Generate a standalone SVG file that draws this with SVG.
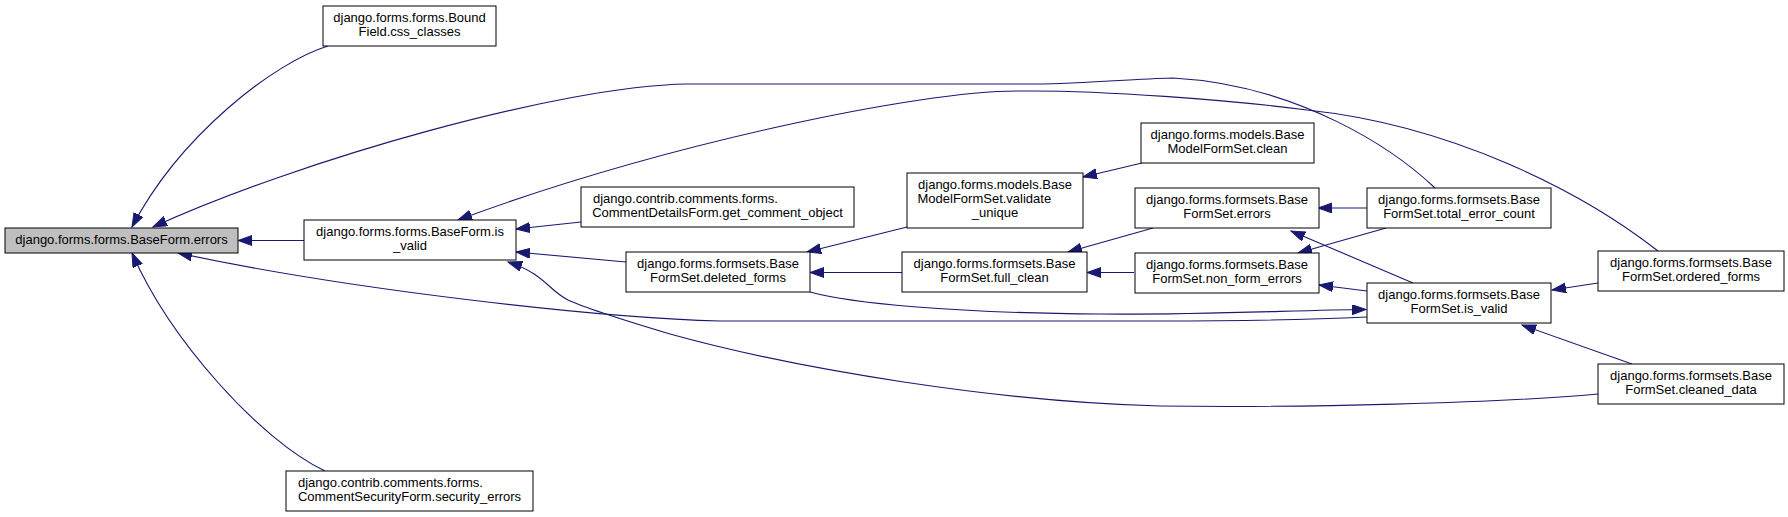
<svg xmlns="http://www.w3.org/2000/svg" width="1788" height="517" viewBox="0 0 1788 517">
<style>
  .box { fill: #ffffff; stroke: #000000; stroke-width: 1; }
  .cur { fill: #bfbfbf; stroke: #000000; stroke-width: 1; }
  text { font-family: "Liberation Sans", Arial, sans-serif; font-size: 13px; fill: #000000; }
  .m { text-anchor: middle; }
  .s { text-anchor: start; }
  .edge { fill: none; stroke: #191970; stroke-width: 1.1; marker-end: url(#arr); }
</style>
<defs>
  <marker id="arr" markerUnits="userSpaceOnUse" markerWidth="16" markerHeight="12" refX="14" refY="5" orient="auto">
    <path d="M0,0 L14,5 L0,10 z" fill="#191970" stroke="#191970" stroke-width="1"/>
  </marker>
</defs>
<rect width="1788" height="517" fill="#ffffff"/>

<g id="connectors">
  <path class="edge" d="M328,46 C275,62 180,135 132,227"/>
  <path class="edge" d="M1435,188 C1395,150 1300,85 1173,78 C1150,78 1080,84 1037,84 L687,84 C560,86 300,160 153,227"/>
  <path class="edge" d="M304,240.5 L238,240.5"/>
  <path class="edge" d="M1658,251 C1580,190 1450,125 1307,110 C1230,100 1100,90 1020,91 C920,90 660,145 458,220"/>
  <path class="edge" d="M581,222 L516,229"/>
  <path class="edge" d="M626,262 L516,252"/>
  <path class="edge" d="M907,227 L807,252"/>
  <path class="edge" d="M902,272.5 L810,272.5"/>
  <path class="edge" d="M1142,163 L1083,177"/>
  <path class="edge" d="M1153,228 L1068,252"/>
  <path class="edge" d="M1134,272.5 L1087,272.5"/>
  <path class="edge" d="M1367,208 L1318,208"/>
  <path class="edge" d="M1386,228 L1298,253"/>
  <path class="edge" d="M1413,283 L1291,231"/>
  <path class="edge" d="M1367,291 L1319,285"/>
  <path class="edge" d="M1598,283 L1552,290"/>
  <path class="edge" d="M1632,364 L1522,325"/>
  <path class="edge" d="M810,292 C850,303 950,313 1100,314 C1200,315 1300,310 1366,309.5"/>
  <path class="edge" d="M1367,317 C1300,320 1250,321 1160,321 L720,321 C600,318 350,290 178,253"/>
  <path class="edge" d="M1598,394 C1500,403 1300,408 1160,406 C1000,402 800,370 670,334 C610,316 585,308 568,300 C548,290 545,274 508,262"/>
  <path class="edge" d="M325,471 C260,440 170,340 132,253"/>
</g>

<g id="node-errors">
  <rect class="cur" x="5" y="228" width="233" height="25"/>
  <text class="m" x="121.5" y="243.5">django.forms.forms.BaseForm.errors</text>
</g>
<g id="node-css_classes">
  <rect class="box" x="323" y="6" width="173" height="40"/>
  <text class="m" x="409.5" y="22">django.forms.forms.Bound</text>
  <text class="m" x="409.5" y="36">Field.css_classes</text>
</g>
<g id="node-baseform-is_valid">
  <rect class="box" x="304" y="220" width="212" height="40"/>
  <text class="m" x="410" y="236">django.forms.forms.BaseForm.is</text>
  <text class="m" x="410" y="250">_valid</text>
</g>
<g id="node-security_errors">
  <rect class="box" x="286" y="471" width="247" height="40"/>
  <text class="s" x="298" y="487">django.contrib.comments.forms.</text>
  <text class="m" x="409.5" y="501">CommentSecurityForm.security_errors</text>
</g>
<g id="node-get_comment_object">
  <rect class="box" x="581" y="187" width="273" height="40"/>
  <text class="s" x="593" y="203">django.contrib.comments.forms.</text>
  <text class="m" x="717.5" y="217">CommentDetailsForm.get_comment_object</text>
</g>
<g id="node-deleted_forms">
  <rect class="box" x="626" y="252" width="184" height="40"/>
  <text class="m" x="718" y="268">django.forms.formsets.Base</text>
  <text class="m" x="718" y="282">FormSet.deleted_forms</text>
</g>
<g id="node-validate_unique">
  <rect class="box" x="907" y="173" width="176" height="55"/>
  <text class="m" x="995" y="189">django.forms.models.Base</text>
  <text class="s" x="917.5" y="203">ModelFormSet.validate</text>
  <text class="m" x="995" y="217">_unique</text>
</g>
<g id="node-full_clean">
  <rect class="box" x="902" y="252" width="185" height="40"/>
  <text class="m" x="994.5" y="268">django.forms.formsets.Base</text>
  <text class="m" x="994.5" y="282">FormSet.full_clean</text>
</g>
<g id="node-modelformset-clean">
  <rect class="box" x="1141" y="123" width="173" height="40"/>
  <text class="m" x="1227.5" y="139">django.forms.models.Base</text>
  <text class="m" x="1227.5" y="153">ModelFormSet.clean</text>
</g>
<g id="node-formset-errors">
  <rect class="box" x="1135" y="188" width="184" height="40"/>
  <text class="m" x="1227" y="204">django.forms.formsets.Base</text>
  <text class="m" x="1227" y="218">FormSet.errors</text>
</g>
<g id="node-non_form_errors">
  <rect class="box" x="1135" y="253" width="184" height="40"/>
  <text class="m" x="1227" y="269">django.forms.formsets.Base</text>
  <text class="m" x="1227" y="283">FormSet.non_form_errors</text>
</g>
<g id="node-total_error_count">
  <rect class="box" x="1367" y="188" width="184" height="40"/>
  <text class="m" x="1459" y="204">django.forms.formsets.Base</text>
  <text class="m" x="1459" y="218">FormSet.total_error_count</text>
</g>
<g id="node-formset-is_valid">
  <rect class="box" x="1367" y="283" width="184" height="40"/>
  <text class="m" x="1459" y="299">django.forms.formsets.Base</text>
  <text class="m" x="1459" y="313">FormSet.is_valid</text>
</g>
<g id="node-ordered_forms">
  <rect class="box" x="1598" y="251" width="186" height="40"/>
  <text class="m" x="1691" y="267">django.forms.formsets.Base</text>
  <text class="m" x="1691" y="281">FormSet.ordered_forms</text>
</g>
<g id="node-cleaned_data">
  <rect class="box" x="1598" y="364" width="186" height="40"/>
  <text class="m" x="1691" y="380">django.forms.formsets.Base</text>
  <text class="m" x="1691" y="394">FormSet.cleaned_data</text>
</g>
</svg>
